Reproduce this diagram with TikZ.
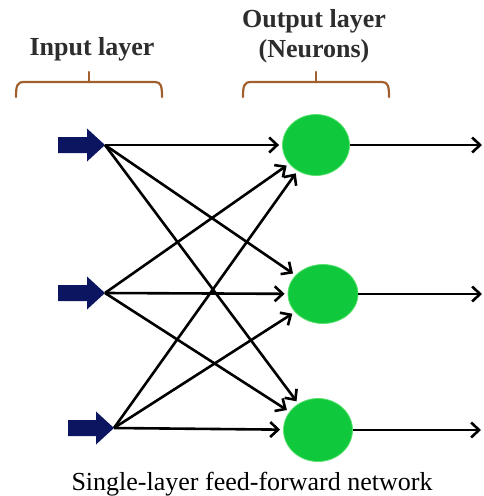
\documentclass[tikz,border=0pt]{standalone}
\usepackage{fontspec}
\setmainfont{Liberation Serif}
\usetikzlibrary{arrows.meta,shapes.geometric,calc}
\definecolor{inblue}{RGB}{12,22,96}
\definecolor{neurgreen}{RGB}{16,200,60}
\definecolor{neuredge}{RGB}{90,225,110}
\definecolor{bracecol}{RGB}{160,95,45}
\definecolor{titlecol}{RGB}{45,45,45}
\begin{document}
\begin{tikzpicture}[x=1pt,y=-1pt,
  neuron/.style={ellipse,fill=neurgreen,draw=neuredge,line width=0.8pt,inner sep=0pt},
  conn/.style={draw=black,line width=2.6pt,-{Straight Barb[length=8pt,width=15pt,line width=2.6pt]},shorten >=3pt},
  outconn/.style={draw=black,line width=2.6pt,-{Straight Barb[length=8pt,width=15pt,line width=2.6pt]}},
  title/.style={font=\fontsize{26}{28}\selectfont\bfseries\rmfamily,text=titlecol,anchor=base,inner sep=0pt},
  caption/.style={font=\fontsize{26}{28}\selectfont\rmfamily,anchor=base,inner sep=0pt},
  bracestyle/.style={draw=bracecol,line width=2.2pt,line cap=round,line join=round}]
\useasboundingbox (0,0) rectangle (483,496);

% titles
\node[title] (tin) at (92,55) {Input layer};
\node[title] (tout1) at (314,27) {Output layer};
\node[title] (tout2) at (314,57) {(Neurons)};

% braces
\draw[bracestyle] (16,97) .. controls (16,86) and (17,82) .. (24,82) -- (155,82) .. controls (161,82) and (162,86) .. (162,97);
\draw[bracestyle] (89,82) -- (89,72);
\draw[bracestyle] (243,97) .. controls (243,86) and (244,82) .. (251,82) -- (382,82) .. controls (388,82) and (389,86) .. (389,97);
\draw[bracestyle] (316,82) -- (316,72);

% input arrows
\coordinate (i1) at (105,145);
\coordinate (i2) at (105,293);
\coordinate (i3) at (114,428);
\foreach \c/\len in {i1/47,i2/47,i3/46}{
  \fill[inblue] (\c) -- ($(\c)+(-18,-16.5)$) -- ($(\c)+(-18,-8)$) -- ($(\c)+(-\len,-8)$)
    -- ($(\c)+(-\len,8)$) -- ($(\c)+(-18,8)$) -- ($(\c)+(-18,16.5)$) -- cycle;
}

% neurons
\node[neuron,minimum width=67pt,minimum height=61pt] (n1) at (316,145) {};
\node[neuron,minimum width=70pt,minimum height=59pt] (n2) at (323,294) {};
\node[neuron,minimum width=69pt,minimum height=63pt] (n3) at (318,430) {};

% outputs
\coordinate (o1) at (482,145);
\coordinate (o2) at (482,294);
\coordinate (o3) at (481,430);

% connections
\foreach \a in {i1,i2,i3}{
  \foreach \b in {n1,n2,n3}{
    \draw[conn] (\a) -- (\b);
  }
}
\draw[outconn] (n1) -- (o1);
\draw[outconn] (n2) -- (o2);
\draw[outconn] (n3) -- (o3);

% caption
\node[caption] (cap) at (252,490) {Single-layer feed-forward network};
\end{tikzpicture}
\end{document}
